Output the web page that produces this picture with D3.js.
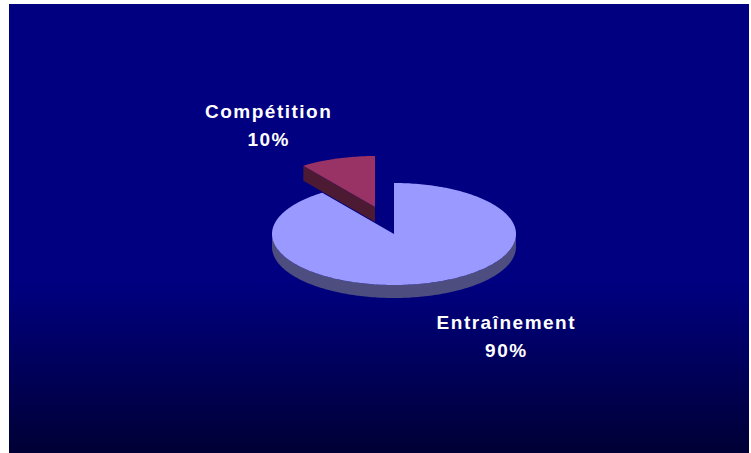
<!DOCTYPE html>
<html>
<head>
<meta charset="utf-8">
<script src="https://cdn.jsdelivr.net/npm/d3@7/dist/d3.min.js"></script>
<style>
  html, body { margin: 0; padding: 0; background: #ffffff; }
  svg { display: block; }
</style>
</head>
<body>
<svg id="chart" width="751" height="453"></svg>
<script>
// Répartition du temps : entraînement vs compétition
const categories = ["Entraînement", "Compétition"];
const values = [90, 10];
const percentLabels = ["90%", "10%"];
const exploded = [false, true];

const topColors = ["#9999FF", "#993366"];
const sideColors = ["#4D4D80", "#4D1A33"];

const W = 751, H = 453;
const svg = d3.select("#chart");

// Panel background with a darkening fade toward the bottom
const defs = svg.append("defs");
const grad = defs.append("linearGradient")
  .attr("id", "bg").attr("x1", 0).attr("y1", 0).attr("x2", 0).attr("y2", 1);
grad.append("stop").attr("offset", "0").attr("stop-color", "#000080");
grad.append("stop").attr("offset", "0.62").attr("stop-color", "#000080");
grad.append("stop").attr("offset", "1").attr("stop-color", "#000035");
svg.append("rect").attr("x", 9).attr("y", 4).attr("width", 740).attr("height", 449)
  .attr("fill", "url(#bg)");

// Tilted pie geometry
const cx = 394, cy = 234, rx = 122, ry = 51;
const pullX = -19, pullY = -27;          // displacement of the detached slice
const depthMain = 13, depthPulled = 15;

const pie = d3.pie().sort(null).value(d => d.value)
  .startAngle(0).endAngle(2 * Math.PI);
const arcs = pie(categories.map((c, i) => ({ name: c, value: values[i], pct: percentLabels[i], i })));

const px = (a, ox) => ox + rx * Math.sin(a);
const py = (a, oy) => oy - ry * Math.cos(a);

function rimPoints(a0, a1, ox, oy, dz) {
  const n = Math.max(2, Math.ceil((a1 - a0) / 0.02));
  const pts = [];
  for (let k = 0; k <= n; k++) {
    const a = a0 + (a1 - a0) * k / n;
    pts.push([px(a, ox), py(a, oy) + dz]);
  }
  return pts;
}
const line = d3.line();

const g = svg.append("g");

// Non-detached slices first, detached slice drawn on top
const order = arcs.slice().sort((a, b) => (exploded[a.data.i] ? 1 : 0) - (exploded[b.data.i] ? 1 : 0));

order.forEach(d => {
  const i = d.data.i;
  const isOut = exploded[i];
  const ox = cx + (isOut ? pullX : 0);
  const oy = cy + (isOut ? pullY : 0);
  const dz = isOut ? depthPulled : depthMain;
  const a0 = d.startAngle, a1 = d.endAngle;

  // Outer wall on the front half of the ellipse
  const f0 = Math.max(a0, Math.PI / 2), f1 = Math.min(a1, 3 * Math.PI / 2);
  if (f1 > f0) {
    const topEdge = rimPoints(f0, f1, ox, oy, 0);
    const botEdge = rimPoints(f0, f1, ox, oy, dz).reverse();
    g.append("path").attr("d", line(topEdge.concat(botEdge)) + "Z")
      .attr("fill", sideColors[i]);
  }

  // Radial wall facing the viewer at the start edge
  if (Math.sin(a0) < 0 && Math.cos(a0) > 0 && a0 > Math.PI) {
    const rim = [px(a0, ox), py(a0, oy)];
    const wall = [[ox, oy], rim, [rim[0], rim[1] + dz], [ox, oy + dz]];
    g.append("path").attr("d", line(wall) + "Z").attr("fill", sideColors[i]);
  }

  // Top face
  const face = [[ox, oy]].concat(rimPoints(a0, a1, ox, oy, 0));
  g.append("path").attr("d", line(face) + "Z").attr("fill", topColors[i]);

  // Category and share label
  const mid = (a0 + a1) / 2;
  const lx = ox + 2.9 * rx * Math.sin(mid) + 3;
  const ly = oy - 1.9 * ry * Math.cos(mid);
  const t = svg.append("text")
    .attr("text-anchor", "middle")
    .attr("fill", "#ffffff")
    .attr("font-family", "'Liberation Sans', Arial, sans-serif")
    .attr("font-weight", "bold")
    .attr("font-size", 19)
    .attr("letter-spacing", "1.5px");
  t.append("tspan").attr("x", lx).attr("y", ly + 3).text(d.data.name);
  t.append("tspan").attr("x", lx).attr("y", ly + 31).text(d.data.pct);
});
</script>
</body>
</html>
